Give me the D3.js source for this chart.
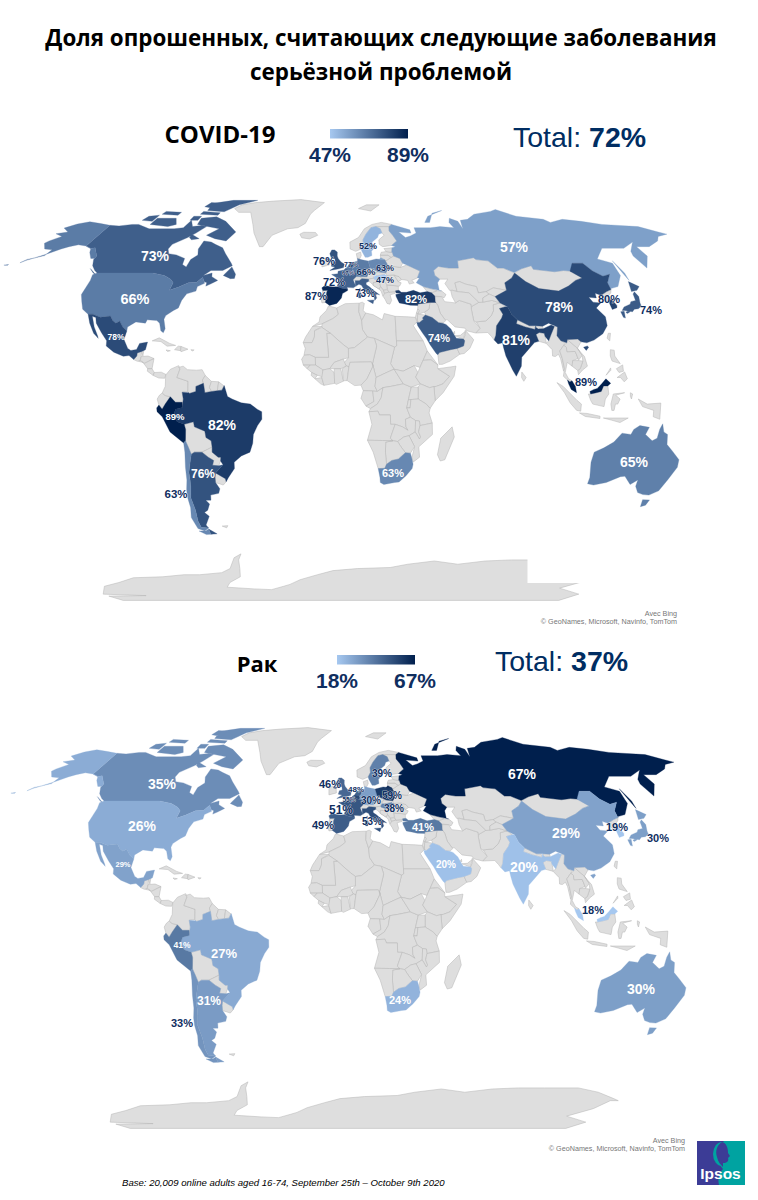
<!DOCTYPE html>
<html>
<head>
<meta charset="utf-8">
<script src="https://cdn.jsdelivr.net/npm/d3@7"></script>
<style>
body { margin: 0; background: white; }
svg { display: block; }
</style>
</head>
<body>
<script>
// survey results
const countries = ["Canada","USA","Mexico","Brazil","Peru","Argentina","Chile","Sweden","UK","Netherlands","Belgium","Germany","Poland","Hungary","France","Spain","Italy","Turkey","Russia","China","India","SaudiArabia","SouthKorea","Japan","Malaysia","Australia","SouthAfrica"]
const covidValues = [73,66,78,82,89,76,63,52,76,77,67,66,63,47,72,87,73,82,57,78,81,74,80,74,89,65,63]
const cancerValues = [35,26,29,27,41,31,33,39,46,48,55,30,59,38,51,49,53,41,67,29,20,20,19,30,18,30,24]
const covidRange = [47,89]
const cancerRange = [18,67]

// Robinson table
const robLat = [0,5,10,15,20,25,30,35,40,45,50,55,60,65,70,75,80,85,90]
const robLen = [1,.9986,.9954,.99,.9822,.973,.96,.9427,.9216,.8962,.8679,.835,.7986,.7597,.7186,.6732,.6213,.5722,.5322]
const robDfe = [0,.062,.124,.186,.248,.31,.372,.434,.4958,.5571,.6176,.6769,.7346,.7903,.8435,.8936,.9394,.9761,1]

// outlines of surveyed countries, lon,lat
const surveyed = {
Canada: ["-141,69.6 -135,69.3 -128,70 -124,70 -115,68 -108,68 -100,68 -95,68.5 -94,72 -90,69 -85,69.5 -81.5,69 -85,66 -88,64 -94,61 -94.5,59 -92.5,57 -88,56.5 -82.5,55 -82,52.5 -79.5,51.5 -79,54.5 -76.5,56.5 -78,59 -77.5,62.5 -73,62 -70,61 -65,59.5 -62,57 -57,53 -56,52 -60,50 -66,50 -69,48 -65,49 -64.5,47.5 -61,46 -64,44.5 -66,43.7 -66,45 -67.5,45.5 -69,47.3 -71,45.2 -75,45 -79,43.3 -83,42 -82.5,45 -84.5,46.5 -88.5,48 -95,49 -123,49 -125,50 -128,52 -130,54.5 -130,56 -135,59.5 -137,59.2 -141,60.3",
 "-80,73.7 -72,71.5 -62,66.5 -65,62.5 -72,63.5 -78,65 -73,68 -88,70 -89,73","-117,70 -105,69 -101,70 -105,73 -117,73","-125,72 -118,71.5 -118,74.5 -124,74","-90,77 -78,76.3 -72,80 -62,83 -80,83 -92,81","-92,75 -80,74.5 -80,75.8 -92,76.5","-117,75 -106,74.5 -106,76 -117,76.5","-95,79 -87,78 -87,81 -94,81.5","-95,72 -90,72 -90,74 -95,74","-87,65.5 -81,63.5 -85,63 -87,64","-59,48 -55,46.7 -53,46.8 -53,48.5 -56,51.5","-128,50.8 -123.5,48.5 -125,49"],
USA: ["-123,49 -95,49 -88.5,48 -84.5,46.5 -82.5,45 -83,42 -79,43.3 -75,45 -71,45.2 -69,47.3 -67.5,45.5 -67,44.8 -70,43.5 -70,41.7 -74,40.6 -75.5,38 -76,35 -78,34 -81,32 -81.4,30.5 -80,26.8 -80.5,25.2 -81.8,26 -83,29 -84.5,30 -89,30.3 -89.5,29 -94,29.5 -97.3,27.5 -97.2,25.9 -99.5,27.5 -101.5,29.8 -103,29 -104.8,30 -106.5,31.8 -111,31.3 -114.8,32.5 -117.1,32.5 -120.5,34.5 -122.5,37.5 -124.3,40.3 -124,46 -124.7,48.3",
 "-141,69.6 -148,70.4 -156.5,71.3 -162,70.2 -166.5,68.3 -161,66.5 -166.5,65.7 -161,64.5 -165,62.5 -166,61.5 -162,59 -157.5,58.7 -158,56.2 -162,55.2 -158,56.8 -153,59 -150,60 -146,60.8 -141,60.3 -137,59.2 -135.5,57.5 -132,55 -130,55 -130,56 -135,59.5 -137,59.2 -141,60.3",
 "-162,55.2 -165,54.2 -167,53.2 -165,54.6","-172,52.5 -174,52.2 -172,52.2"],
Mexico: ["-117.1,32.5 -114.8,32.5 -111,31.3 -106.5,31.8 -104.8,30 -103,29 -101.5,29.8 -99.5,27.5 -97.2,25.9 -97.8,22.5 -95.5,19 -94,18.2 -91.5,18.6 -90.5,21 -87,21.5 -87.5,18.5 -88.8,17.9 -91,17.2 -91,16 -92.2,14.6 -94.5,16.2 -97,15.9 -101.5,17.5 -105.3,20 -105.5,22 -108.5,25.2 -112,29 -113,31.2 -114.8,31.7 -112.5,27.5 -110,24 -109.5,23 -112,25 -115,29"],
Brazil: ["-51.5,4.3 -50,0 -48,-1 -44,-2.5 -40,-3 -37,-5 -35,-6 -35,-9 -37,-11.5 -39,-15 -39.5,-18.5 -41,-22 -45,-23.5 -48.5,-26 -48.7,-28.5 -52,-32 -53.4,-33.7 -53.5,-32.5 -57.6,-30.2 -53.7,-27 -54.6,-25.5 -54.3,-24 -55.5,-24 -58,-22 -57.8,-20 -58,-17.5 -60.2,-16.2 -60.5,-13.7 -65,-12 -65.3,-10 -69.5,-11 -72.5,-10 -74,-7.5 -73,-5 -70,-4.3 -69.5,-1 -70,1.7 -67,1.5 -66.8,1.2 -64,2 -64,4 -60.7,5.2 -60,1.5 -57,2 -54.5,2.3 -52.5,2.5"],
Peru: ["-80.3,-3.4 -78.9,-5 -77.5,-3 -75.2,-0.1 -73,-2.3 -70,-2.3 -70,-4.3 -73,-5 -74,-7.5 -72.5,-10 -69.5,-11 -69,-13 -69.3,-16 -69.5,-17.5 -70.4,-18.4 -76,-14 -79,-8 -81.2,-6 -81.3,-4.5"],
Argentina: ["-66,-22 -62.6,-22 -60,-24 -57.7,-25.3 -58.5,-27.2 -55.7,-27.4 -53.7,-27 -57.6,-30.2 -58.2,-32 -58.4,-34 -57,-36.5 -58,-38.3 -62,-39 -62.5,-41 -65,-41 -63.7,-42.5 -65.5,-45 -67.5,-46 -65.8,-47.5 -69,-51 -68.4,-52.3 -72,-52 -72.3,-49.5 -71.5,-45 -71.8,-40 -70.5,-36 -70,-33 -69.8,-30 -68.5,-26 -67.5,-22.8","-68.6,-52.7 -65.2,-54.7 -68.6,-54.9"],
Chile: ["-70.4,-18.4 -69.5,-17.5 -68.5,-20 -67.5,-22.8 -68.5,-26 -69.8,-30 -70,-33 -70.5,-36 -71.8,-40 -71.5,-45 -72.3,-49.5 -72,-52 -68.4,-52.3 -71,-53.5 -74,-52.5 -75,-48 -73.5,-44 -73.3,-40 -72.8,-37 -71.5,-33 -71,-28 -70.3,-22","-68.6,-52.7 -68.6,-54.9 -71,-55 -74,-53.5 -70.5,-53.5"],
Sweden: ["11,59 12.5,61 12.5,63 14.5,65.5 18,68.5 21,69 23.5,68 24,66 22,65.5 21,64 17.5,62 17.2,60.7 19,60 16.5,58 16.5,56.2 14.3,55.5 12.8,55.5 11.3,58"],
UK: ["-5.7,50 -1,50.7 1.3,51.2 1.7,52.7 0,53.5 -1.5,55 -2,56 -2,57.7 -3.5,58.6 -5,58.6 -6,57 -5,55 -3.2,54.9 -3,53.5 -4.5,53.2 -5,51.8 -3,51.4","-7.3,55.1 -5.6,54.6 -6.2,54.1 -7.5,54.2"],
Netherlands: ["3.4,51.4 4.5,53 7.1,53.5 7,52 6,51 5.8,51.2"],
Belgium: ["2.5,51 3.4,51.4 5.8,51.2 6.1,50.3 5.8,49.6 4.2,50"],
Germany: ["7.1,53.5 8.7,54 8.6,55 11,54.4 14.2,53.9 14.7,52 15,51 12.2,50.3 13.8,48.7 13,47.5 7.6,47.6 8.2,49 6,49.5 6.1,50.3 6,51 7,52"],
Poland: ["14.2,53.9 18.5,54.8 23,54.4 24,52.5 23.6,51 24,50.5 22.6,49.1 19,49.4 15,51 14.7,52"],
Hungary: ["16.3,46.9 17,48 18,47.8 22,48.4 22.9,48 21,46.2 18.7,45.9 16.5,46.5"],
France: ["-1.8,43.4 -1.2,46 -2.5,47.3 -4.7,48.4 -1.6,48.7 -1.5,49.7 1.5,50.2 2.5,51 4.2,50 6,49.5 8.2,49 7.5,47.5 6,46.3 7,44 7.5,43.8 6,43 3,43.2 3.2,42.4 0.7,42.7","8.6,42.3 9.4,43 9.5,41.5"],
Spain: ["-9.3,43 -8.8,41.9 -6.5,42 -6.9,41 -7,39.5 -7.4,37.2 -6.3,36.6 -5.4,36 -2,36.8 -0.5,38.3 0.2,39 0.7,40.7 3.2,41.9 3.2,42.4 0.7,42.7 -1.8,43.4 -4,43.4 -8,43.8"],
Italy: ["7.5,43.8 7,44 7,45.9 9,45.9 10.4,46.7 13.7,46.5 13.7,45.6 12.3,45 12.4,44.2 13.7,43.5 16,41.8 18.5,40.2 17,40.5 16.7,39.8 17,39 16,38 15.7,40 13,41.2 11,42.5 10,44 8.8,44.4","12.5,38 15.6,38.2 15.1,36.7","8.2,41 9.7,41 9.5,39.1 8.4,39"],
Turkey: ["26.3,41.8 28,42 29,41.2 31.5,41.2 35,42 38,41 41.5,41.5 43.5,41 44.8,39.7 44.5,37.5 44.8,37.2 42,37.2 36.2,36.6 36,36 32.5,36.1 30.5,36.5 27.5,37 26.3,39.5 26.2,40.3 29,40.8 26.5,40.9"],
Russia: ["31,70 41,67.5 41,66 34,66.5 37,64 40,64.7 44,66 44,68.5 54,68.5 60,69 68,68.5 67,71 69,73 73,71.5 73,68 75,72 80,72.5 87,75 100,76.5 105,77.5 113,74 128,72.5 130,71 140,72.5 150,71.5 160,70 170,69.5 180,69 187,66.5 190,65.5 183,64.5 179,62.5 170,60 163,60 163,56 156.5,51 155.5,56 157,58 164,62 155,59.3 143,59.3 135,54.8 141,53 140,48 135,43.5 131,42.7 130.7,42.3 131,45 135,48.5 131,47.7 127.5,49.8 125.5,53 120,53 117,49.7 113,50 108,49.5 98,50.5 98,52 92,50.7 87.5,49.2 83,51 80,51 77,54 71,54.5 70,55.3 61,54 60,51 55,51 50,51.7 47,50 47,48 49,46.5 47.5,45 47.5,42 48.5,41.8 44,42.6 40,43.5 37,45 39,47 38,47 40,49.8 34,52.3 32,53 31,55 28,56 27.7,57.5 27.4,57.6 28,59.5 30,60 28,60.5 31.5,62.5 30,65 28.5,67 29,69",
 "142,54 143,49 142.5,46 142,49","52,71 56,74 68,77 60,75.5 55,71","20,54.4 22.8,54.4 21,55.3"],
China: ["73.5,39.5 80,42 80.5,45 85,47 87.5,49 91,45.5 96,42.7 105,41.7 111,43.7 116,46 120,47 116,49.7 120,53 125.5,53 127.5,49.8 131,47.7 135,48.5 131,45 130.7,42.3 128,41.5 124.3,40 122,40.8 121.5,39 118,39.2 119,37.3 122.5,37 119.3,35 122,31.5 121.5,28 118.5,24.8 114,22.3 110.5,21.2 108,21.6 106.7,22.7 102,22.5 101.5,21.2 99,22 97.6,24 98.7,27.5 95,29 92,27.8 88.8,28 86,28 81,30.3 79,32.5 78,35.5 75,37","108.7,19.5 110.5,20 111,19.5 109.7,18.2"],
India: ["74,34.8 77,35.5 78,35.5 79,32.5 81,30.3 80.2,28.8 84,27.5 88.2,26.5 88.8,28 88.8,27.3 89.7,26.7 92,26.8 96,28.3 97.3,27.7 95,24.5 93.5,22 92.2,23.7 92,25 89.8,25.3 88.2,24.5 89,21.8 87,21.3 85,19.6 80.5,15.5 80,12 77.5,8 76,10.5 73.5,16 72.8,19.5 72.6,21.2 70.5,20.8 69,22.3 70,24.2 71,28 74,31 75,32.5"],
SaudiArabia: ["34.7,29.3 36,29.3 37.9,30.5 37.5,31 39,32.2 42,31.2 44.7,29.2 46.5,29 48,28.5 50,26.7 50.8,25 52,23 55.2,22.7 55.7,22 55,20 52,19 49,18.5 44,17.4 43.2,16.5 42.5,17 40,20.5 38.5,23 37,25 35,28"],
SouthKorea: ["126.7,37.8 128.3,38.6 129.5,36 129,35.1 126.5,34.4 126.5,36.5"],
Japan: ["130.9,34 132.5,35.4 136,36.5 137,37.5 139.5,38 140,40.5 141.3,41.4 142,39.5 141,37 140.8,35.7 138.8,34.7 136.8,34.5 135.5,33.5 132,34","140,41.5 141.7,45.5 145.3,43.5 143,42","130,33.5 131.7,33.7 131,31 130.2,31.3","132.3,33.3 134.5,34.2 134,33.3 132.7,32.8"],
Malaysia: ["100,6.5 101,5.7 102,6.2 103.4,4 103.8,1.5 101.5,2.8 100.4,5","109.7,2 111.5,2.8 113,3.2 115,5 117,7 119,5.2 117.7,4.2 115.8,4.2 114.7,2 112.5,1.5 110,1"],
Australia: ["114,-22 113.5,-26 115,-32 115,-34.5 118,-35 123.5,-34 129,-31.7 131,-31.5 135,-34.8 137.7,-33 138,-35.5 140.5,-38 143.5,-38.8 146.5,-39 150,-37.3 151.5,-33 153.5,-28 153,-25 149,-21.5 146,-19 145.3,-15 143.5,-14 142.5,-10.8 141.5,-13 141,-16.5 139,-17.5 135.5,-15 136.8,-12.2 132.5,-11.5 130,-13 129,-15 125,-14.5 122,-18 118,-20.3","144.8,-40.8 148.2,-40.9 148,-43 146,-43.6"],
SouthAfrica: ["17,-28.5 20,-28.4 20.7,-26.8 23,-25.3 26,-24.7 29,-22.2 31.3,-22.4 32,-24.3 32.8,-26.8 32.5,-28.5 30,-31.3 27,-33.8 25,-34 20,-34.8 18.3,-34 18,-32"]
}

// everything else on the map, no survey data
const otherLand = [
"-73,78 -68,76 -60,76 -54,70 -51,66 -45,60 -43,60 -40,65 -32,68 -26,68.5 -22,70.5 -20,75 -18,77 -12,81.5 -30,83.5 -50,82.5 -62,81.5 -70,80",
"-24,65.5 -22,66.4 -15,66.3 -13.5,65 -18,63.4 -22.5,63.9","12,78 18,80 27,80 20,76.7",
"-85,22 -82,23.2 -77,21 -74.2,20.2 -78,19.9 -81,21.7","-74.5,18.5 -73,19.9 -71.7,19.8 -71.7,18.1","-71.7,19.8 -68.5,18.7 -71.5,17.7 -71.7,18.1","-78.3,18.4 -76.3,18.1 -77.5,17.8","-67.2,18.5 -65.7,18.4 -66.5,18",
"-92.2,14.6 -91,16 -91,17.2 -89.2,17.9 -89,15.8 -89.3,14.3 -90.5,13.9","-89.2,17.9 -88.2,18.4 -88.3,16","-89,15.8 -86,16 -83.2,15 -87.5,13 -89.3,14.3","-90,13.9 -89.3,14.3 -87.7,13.4","-87.5,13 -83.2,15 -83.7,11 -85.7,11","-85.7,11 -83.7,11 -82.6,9.5 -83,8.3 -85.7,10","-83,8.3 -82.6,9.5 -79.5,9.6 -77.4,8.7 -77.9,7.2 -80.5,7.3",
"-80.3,-3.4 -78.9,-5 -77.5,-3 -75.2,-0.1 -77.5,0.4 -78.8,1.4 -80,0.5 -81,-1","-77.5,8.5 -75.5,10.8 -72,12.2 -71.3,11 -72.5,7.5 -67.5,6 -67.5,2 -70,1.7 -69.5,-1 -70,-4.3 -70,-2.3 -73,-2.3 -75.2,-0.1 -77.5,0.4 -78.8,1.4 -77.5,4 -77.5,7","-72,11.5 -70,12 -68,10.6 -64,10.4 -61.5,10.6 -60,8.3 -61.2,6.5 -60.7,5.2 -64,4 -64,2 -66.8,1.2 -67.5,2 -67.5,6 -72.5,7.5 -71.3,11","-60,8.3 -57.2,6 -58,3.5 -57,2 -60,1.5 -60.7,5.2 -61.2,6.5","-57.2,6 -54,5.8 -54.5,2.3 -57,2 -58,3.5","-54,5.8 -51.6,4.2 -52.5,2.5 -54.5,2.3","-69.5,-11 -65.3,-10 -65,-12 -60.5,-13.7 -60.2,-16.2 -58,-17.5 -57.8,-20 -62.6,-22 -66,-22 -67.5,-22.8 -68.5,-20 -69.5,-17.5 -69.3,-16 -69,-13","-57.8,-20 -58,-22 -55.5,-24 -54.3,-24 -54.6,-25.5 -55.7,-27.4 -58.5,-27.2 -57.7,-25.3 -60,-24 -62.6,-22","-57.6,-30.2 -53.5,-32.5 -53.4,-33.7 -55,-35 -58.4,-34 -58.2,-32","-61,-51.5 -58,-51.3 -59,-52.2",
"-6.2,54.1 -6,52.3 -9.8,51.5 -10,54.2 -8.3,55.1 -7.3,55.1 -7.5,54.2","-8.8,41.9 -6.5,42 -6.9,41 -7,39.5 -7.4,37.2 -9,37 -9.5,38.8","8.6,55 10,55 10.8,56.3 10.6,57.7 8.2,57","6,46.3 7.5,47.5 9.6,47.5 10.4,46.7 9,45.9 7,45.9","9.6,47.5 13,47.5 13.8,48.7 16.9,48.7 16.3,46.9 13.7,46.5 10.4,46.7","12.2,50.3 15,51 18.8,49.6 16.9,48.7 13.8,48.7","17,48.6 18.8,49.6 22.6,49.1 22,48.4 18,47.8","13.7,45.6 13.7,46.5 16.3,46.9 16.5,46.5 18.7,45.9 19,45 16,45.2 15.7,44 18.5,42.5 15,44.7 14.5,45.2","16,45.2 19,45 19.3,43.5 18.5,42.5 15.7,44","18.7,45.9 21,46.2 22.5,44.5 22.5,42.5 20.5,42 19.3,43.5 19,45","18.5,42.5 19.3,43.5 20.5,42 21,40.5 20,39.7 19.4,41.5","20.5,42 22.5,42.3 23,41.2 21,40.8","20,39.7 21,40.8 23,41.3 26.3,41.5 26,40.8 23.5,40.2 24,38 23,36.5 21.7,36.8 21,38.3","22.5,44.2 28,43.7 27.7,42 26.3,41.5 23,41.3 22.5,42.5","21,46.2 22.9,48 26.6,48.2 28.2,45.5 29.6,45 28.6,43.7 22.5,44.2","26.6,48.2 29,47.5 30,46.3 28.2,45.5","23.6,51 25,51.9 30.5,51.3 34,52.3 40,49.8 38,47 35,46 36,45 33.5,44.5 33,46 30.7,46.3 30,46.3 29,47.5 26.6,48.2 22.9,48 22.6,49.1 24,50.5","24,52.5 23.6,51 25,51.9 30.5,51.3 32,53 31,55 28,56 26.6,55.5 23.5,54 23,54.4","21,55.3 21,56.4 25,56.4 26.6,55.5 23.5,54 23,54.4","21,56.4 21.7,57.6 24.4,57.9 27.7,57.5 28,56 26.6,55.5 25,56.4","23.5,59.2 28,59.5 27.4,57.6 24.4,57.9","5,59 5,62 10,64 14,68 19,70 25,71 31,70 29,69 25.5,69 21,69 18,68.5 14.5,65.5 12.5,63 12.5,61 11,59 8,58","21,69 25.5,69 29,69 28.5,67 30,65 31.5,62.5 28,60.5 23,60 21.3,61 21.5,63 25,65 24,66 23.5,68",
"61,25.1 66.5,25.3 68,23.7 69,22.3 70,24.2 71,28 74,31 75,32.5 74,34.8 77,35.5 75,37 71.5,36.3 71,34 69.3,31.8 66.5,29.9 62,29.5 63.3,27","60.8,34.4 61.2,35.6 65,37.2 67,37.3 71.5,38 75,37 71.5,36.3 71,34 69.3,31.8 66.5,29.9 62,29.5 60.9,29.9","44.8,39.5 48,39.5 49,37.5 54,37 56,38 61.2,36.5 60.8,34.4 60.9,29.9 63.3,27 61,25.1 57,26 56.5,27 52,27.5 49,30.2 47.7,30.5 46,33 45.5,35.8 44.5,37.5","38.8,33.4 41,34.5 42,37.2 44.8,37.2 45.5,35.8 46,33 47.7,30.5 48,29.9 46.5,29 44.7,29.2 42,31.2 39.2,32.2","35.8,34.6 36.2,36.6 42,37.2 41,34.5 38.8,33.4 36,32.5","34.3,31.3 35,33 35.8,32.8 35.5,31 35,29.5","35,33 35.8,34.6 36.5,34 35.8,32.8","35.5,32.5 36,32.5 39,32.2 37.5,31 37.9,30.5 36,29.3 35,29.5","40,43.5 44,42.6 46.5,41.8 43.5,41 41.5,41.5","43.5,41 46.5,41.8 48.5,41.8 50.3,40.3 49,39 48,39.5 44.8,39.7","43.2,16.5 44,17.4 49,18.5 52,19 53,16.7 48.5,14 45,12.7 43.5,12.7","52,19 55,20 55.7,22 55.2,22.7 56.3,24.5 56.4,26.2 58.7,23.7 59.8,22.4 57.7,19 55,17 53,16.7","51.5,24 55.2,22.7 56,24.8 56.3,25.7 54,24.2","50.8,25 51.5,25.8 51.5,24.8","47,50 50,51.7 55,51 60,51 61,54 70,55.3 71,54.5 77,54 80,51 83,51 87.5,49 85,47 80.5,45 80,42 74,43 70,41.5 66,41 66,43.5 61,44.5 58.5,45.5 56,45 56,41.5 54,42 52.5,42 51,44.7 53,46.5 49,46.5 47,48","56,41.5 56,45 58.5,45.5 61,44.5 66,43.5 66,41 70,41.5 71,40.5 67.5,39 67,37.3 65,37.2 61.5,41","53,42 54,42 56,41.5 61.5,41 65,37.2 61.2,35.6 61.2,36.5 56,38 54,37 53,39.5","70,41.5 74,43 80,42 73.5,39.5 71,40.5","67.5,39 71,40.5 73.5,39.5 75,37 71.5,38 67,37.3","87.5,49 92,50.7 98,52 98,50.5 108,49.5 113,50 117,49.7 120,47 116,46 111,43.7 105,41.7 96,42.7 91,45.5","124.3,40 128,41.5 130.7,42.3 129.7,41 127.5,39.7 128.3,38.6 126.7,37.8 125,38","121,25 122,25 121,22 120,23",
"88.2,24.5 89.8,25.3 92,25 92.2,23.7 92.3,21 89,21.8","80.2,28.8 81,30.3 86,28 88.2,27.7 88.2,26.5 84,27.5","88.8,27.3 89,28 92,27.8 92,26.8 89.7,26.7","80,9.7 81.8,7.5 80.7,6 79.8,7.5",
"92.2,21 93.5,22 95,24.5 97.3,27.7 98.7,27.5 97.6,24 99,22 101,21.3 100,20.3 97.8,18 98.5,15 99,11 98.5,10 97.7,15 97,16.7 95.5,15.8 94.3,16 94.5,18.5","100,20.3 101,19.5 101,17.7 104.7,17.8 105.5,15 103,14.2 102.5,12 100.5,13.5 100,12 99.2,9.5 100.5,7 102,6.2 101,5.7 100,6.5 98.3,8 99,11 98.5,15 97.8,18","101.5,21.2 102,22.5 106,19 107.5,16.2 105.5,14.2 105.5,15 104.7,17.8 101,17.7 101,19.5 100,20.3","102,22.5 106.7,22.7 108,21.6 105.8,19 108.5,15.8 109.3,12 107,10.5 105,8.6 104.8,10.3 106,11 107.5,14 107.5,16.2 106,19","102.5,12 103,14.2 105.5,14.2 107.5,14 106,11 104.8,10.3",
"109,1 110,1 112.5,1.5 114.7,2 115.8,4.2 117.7,4.2 118,1 116.5,-1 116,-4 111,-3 110,-1.5","95.3,5.5 98,4 104,-1.5 106,-3 105.8,-5.8 104,-5.5 101,-2.5 98.5,1.5","105.3,-6.5 108.7,-6.7 114.5,-7.8 114.5,-8.7 108,-7.9","119.5,-5.5 119,-3 120,1 125,1.5 121,0.5 123,-1 122,-3 121,-3 120.5,-5.5","116,-8.5 120,-8.5 125,-8.5 127,-8.5 123.5,-10.3 119.5,-9.3","131,-1 135,-3 141,-2.6 141,-9 138,-8 138,-5.5 133,-4","127.5,1.5 128.5,1 128,-1 127.5,0","120.5,18.5 122.2,18.3 122,16 124,13 120.5,14 120,16","122,7.5 125.5,9.7 126.5,7 125,5.8 123.5,7.5","122,11 125,12.5 125,10 123,9.5","117.2,8.4 119.5,11.3 119.5,10.4",
"-5.9,35.8 -2,35 -1.2,32.5 -3.7,30.8 -8.7,28.7 -13,27.7 -10,29.5 -9.7,31.5 -6.8,34","-13,27.7 -8.7,27.7 -12,26 -12,23.5 -13,21.3 -17,21.3 -16,23.5","-2,35 2,36.7 8.6,36.9 8.3,33.5 9.5,30 9.8,26.5 12,23.5 6,19.3 3.3,19 1,20.5 -4.8,25 -8.7,27.3 -8.7,28.7 -3.7,30.8 -1.2,32.5","8.6,36.9 10,37.3 11,36.8 10.3,34 11.5,33 9.5,30 8.3,33.5","11.5,33 15,32.3 19,30.3 20,32.8 25,31.7 25,20 24,19.5 15,23 12,23.5 9.8,26.5 9.5,30","25,31.7 31,31.5 34.2,31.3 34.8,29.5 33,28 35.7,23.9 37,22 25,22","25,22 37,22 38.6,18 36.5,14.3 35,11.5 32.5,12.2 27.5,10 23.5,10.8 22,13 24,19.5 25,20","15,23 24,19.5 22,13 23.5,10.8 19,9 15.5,7.5 14,13 16,20","6,19.3 12,23.5 15,23 16,20 14,13 13.5,13.7 4,13.5 3.5,11.7 1,13 3.3,15.3 3.3,19","-11.5,15.5 -5.5,15.5 -6.5,25 -4.8,25 1,20.5 3.3,19 3.3,15.3 1,14.8 -3,13.5 -5,11 -8,10.5 -11.3,12.4","-17,21.3 -13,21.3 -12,23.5 -12,26 -8.7,27.3 -4.8,25 -6.5,25 -5.5,15.5 -11.5,15.5 -14,16.5 -16.5,16.3 -16,19","-16.5,16.3 -14,16.5 -11.5,15.5 -11.3,12.4 -16.7,12.4 -17.5,14.7","-16.7,12.4 -13.7,12.4 -15,11","-15,11 -13.7,12.4 -11.3,12.4 -8,10.5 -8,7.7 -10.5,8.4 -13,9.5","-13,9.5 -10.5,8.4 -11.5,7 -13.2,8.3","-11.5,7 -8.5,7.5 -7.5,4.4 -9,5","-8,10.5 -5,11 -3,9.5 -2.8,5.2 -7.5,4.4 -8.5,7.5","-5,11 -3,13.5 1,14.8 2.3,12 -0.1,11 -3,11","-3,11 -0.1,11 0.6,8 1.2,6.1 -2,4.8 -2.8,5.2 -3,9.5","0.6,11 1,6.2 2.7,6.3 3.5,11.7 2.3,12","2.7,6.3 3.5,11.7 4,13.5 13.5,13.7 14.2,12 11.5,7 8.8,4.5 6,4.3","8.8,4.5 11.5,7 14.2,12 14,13 15.5,7.5 15,4 16,2 9.8,2.3","15.5,7.5 19,9 23.5,10.8 27.5,5 22,4 18.5,3.5 16,2 15,4","9.8,2.3 14,2.2 14.5,-2 11,-3.8 8.8,-0.7","14,2.2 16,2 18.5,3.5 17.7,-0.5 16,-3 13,-4.8 11,-3.8 14.5,-2","18.5,3.5 22,4 27.5,5 31,3.7 29.7,-1.3 29,-4.5 30.7,-8.2 28.5,-9 28.8,-12 29.8,-13.4 27.3,-12 24,-11 22,-11 21.8,-7.3 17,-7.3 16.3,-5.8 12.3,-6 13,-4.8 16,-3 17.7,-0.5","12.3,-6 16.3,-5.8 17,-7.3 21.8,-7.3 22,-11 24,-11 22,-16.5 23.3,-17.5 18.5,-17.4 11.8,-17.3 13.7,-11","23.5,10.8 27.5,10 32.5,12.2 34,9.5 33,7.7 35,5 31,3.7 27.5,5","36.5,14.3 38.6,18 43,12.5 40,14.5","36.5,14.3 40,14.5 43,12.5 42.8,11 48,8 45,5 42,4 39,3.5 35,5 33,7.7 34,9.5 35,11.5","43,11 51,12 50,8 45,1.5 41.5,-1.7 41,3.9 42,4 45,5 48,8","35,5 39,3.5 41,3.9 41.5,-1.7 39.3,-4.7 37.6,-3 34,-1 34,3.7","31,3.7 34,3.7 34,-1 30.8,-1.2 29.7,-1.3","29.7,-1.3 30.8,-1.2 30.5,-4.5 29,-4.5","30.8,-1.2 34,-1 37.6,-3 39.3,-4.7 38.9,-6.5 40.4,-10.5 35,-11.5 34.7,-9.7 33,-9.5 30.7,-8.2 29,-4.5 30.5,-4.5","24,-11 27.3,-12 29.8,-13.4 28.8,-12 28.5,-9 30.7,-8.2 33,-9.5 33,-14 30.3,-15.5 28,-16 25.3,-17.8 23.3,-17.5 22,-16.5","33,-9.5 34.7,-9.7 35,-11.5 34.5,-14 35.5,-16 35,-16.8 33,-14","35,-11.5 40.4,-10.5 40.7,-15 34.9,-19.9 35.5,-24 32.8,-25.9 32,-24.3 33,-19.8 30.3,-15.5 33,-14 35,-16.8 35.5,-16 34.5,-14","25.3,-17.8 28,-16 30.3,-15.5 33,-19.8 31.3,-22.4 29,-22.2 27,-20","20,-18 23.3,-17.5 25.3,-17.8 27,-20 29,-22.2 26,-24.7 23,-25.3 20.7,-26.8 20,-22","11.8,-17.3 18.5,-17.4 23.3,-17.5 20,-18 20,-22 20.7,-26.8 20,-28.4 17,-28.5 14.5,-22","49.3,-12 50.5,-16 47,-25 45,-25.5 43.5,-23 44.5,-16.5",
"-180,-89.9 -180,-85.5 -150,-85 -180,-84 -165,-79 -150,-77 -135,-74.5 -115,-74 -100,-73 -90,-73 -75,-72 -68,-70 -62,-65 -57,-63.3 -60,-66 -62,-70 -65,-74 -75,-77 -80,-79.5 -62,-80.5 -50,-81 -40,-79 -35,-78 -27,-75.5 -15,-73 -5,-71 10,-70 30,-69.5 40,-68 55,-66.5 70,-68 85,-66.5 100,-66 115,-66 135,-66 150,-68 165,-71 170,-72 165,-72 163,-76 155,-80 180,-84 180,-89.9"
]

// label placement, page pixels: country, x, y, size, inside map (white) or not (dark)
const covidLabels = [["Canada",155,256,14,1],["USA",135,299,14.5,1],["Mexico",116,337,8.5,1],["Brazil",222,425,14,1],["Peru",175,417,9.5,1],["Argentina",203,474,12,1],["Chile",176,494,11.5,0],["Sweden",368,246,9,0],["UK",324,261,11,0],["Netherlands",351,265,7,0],["Belgium",348,273,6,0],["Germany",366,272,9.5,0],["Poland",385,268,9,0],["Hungary",385,280,9,0],["France",334,282,11,0],["Spain",316,296,11,0],["Italy",365,293,10,0],["Turkey",416,299,11,1],["Russia",514,247,14,1],["China",559,307,14,1],["India",516,340,14,1],["SaudiArabia",439,338,11,1],["SouthKorea",609,299,11,0],["Japan",651,310,11,0],["Malaysia",586,382,11,0],["Australia",634,462,14,1],["SouthAfrica",393,473,11,1]]
const cancerLabels = [["Canada",162,784,14,1],["USA",142,826,14,1],["Mexico",123,864,7.5,1],["Brazil",224,953,13,1],["Peru",182,945,8.5,1],["Argentina",209,1001,12,1],["Chile",182,1023,11,0],["Sweden",382,773,10,0],["UK",330,784,11,0],["Netherlands",356,789,8,0],["Belgium",349,800,6.5,0],["Germany",371,800,10,0],["Poland",392,795,10,0],["Hungary",394,808,10,0],["France",341,810,12,0],["Spain",323,825,11,0],["Italy",372,821,10,0],["Turkey",423,827,11,1],["Russia",522,774,14,1],["China",566,833,14,1],["India",524,867,14,1],["SaudiArabia",446,864,10,1],["SouthKorea",617,827,11,0],["Japan",658,838,11,0],["Malaysia",593,910,11,0],["Australia",641,989,14,1],["SouthAfrica",400,1000,11,1]]

const Light = "#A6C8F0"
const Dark = "#001F4D"
const TextBlue = "#0F2E5F"
const Land = "#DEDEDE"
const ArcWidth = 2.27    // px per degree at the equator
const ArcHeight = 204    // px equator to pole

const svg = d3.select("body").append("svg").attr("width", 758).attr("height", 1200)

const defs = svg.append("defs")
const grad = defs.append("linearGradient").attr("id", "legendGrad")
grad.append("stop").attr("offset", "0%").attr("stop-color", Light)
grad.append("stop").attr("offset", "100%").attr("stop-color", Dark)

const lenAt = d3.scaleLinear().domain(robLat).range(robLen)
const dfeAt = d3.scaleLinear().domain(robLat).range(robDfe)

function parseRing (str) {
    const ring = str.split(" ").map(p => p.split(",").map(Number))
    ring.push(ring[0])
    return ring
}

function Feature (rings) {
    return {type: "MultiPolygon", coordinates: rings.map(r => [parseRing(r)])}
}

function DrawMap (cx, equator, values, range) {
    const g = svg.append("g")
    const project = d3.geoTransform({
        point: function (lon, lat) {
            const a = Math.abs(lat)
            this.stream.point(cx + ArcWidth * lenAt(a) * lon, equator - Math.sign(lat) * ArcHeight * dfeAt(a))
        }
    })
    const path = d3.geoPath(project)
    const color = d3.scaleLinear().domain(range).range([Light, Dark]).clamp(true)

    g.selectAll("path.other").data(otherLand).join("path")
        .attr("class", "other")
        .attr("d", d => path(Feature([d])))
        .attr("fill", Land)
        .attr("stroke", "#B4B4B4")
        .attr("stroke-width", 0.5)
        .attr("stroke-linejoin", "round")

    g.selectAll("path.country").data(countries).join("path")
        .attr("class", "country")
        .attr("d", d => path(Feature(surveyed[d])))
        .attr("fill", (d, i) => color(values[i]))
        .attr("stroke", (d, i) => color(values[i]))
        .attr("stroke-width", 0.3)
    return g
}

function DrawLabels (labels, values) {
    labels.forEach(function ([name, x, y, size, inside]) {
        const t = svg.append("text")
            .attr("x", x)
            .attr("y", y)
            .attr("dy", "0.35em")
            .attr("text-anchor", "middle")
            .attr("font-family", "Liberation Sans")
            .attr("font-weight", "bold")
            .attr("font-size", size)
            .attr("fill", inside ? "white" : TextBlue)
            .text(values[countries.indexOf(name)] + "%")
        if (!inside) {
            t.attr("stroke", "white").attr("stroke-width", 0.6).attr("paint-order", "stroke")
        }
    })
}

function DrawHeader (name, nameSize, nameX, nameY, barX, barY, range, total, totalX, totalY) {
    svg.append("text")
        .attr("x", nameX).attr("y", nameY)
        .attr("text-anchor", "middle")
        .attr("font-family", "Open Sans")
        .attr("font-weight", "bold")
        .attr("font-size", nameSize)
        .text(name)
    svg.append("rect")
        .attr("x", barX).attr("y", barY)
        .attr("width", 78).attr("height", 9.5)
        .attr("fill", "url(#legendGrad)")
    range.forEach(function (v, i) {
        svg.append("text")
            .attr("x", barX + i * 78).attr("y", barY + 33)
            .attr("text-anchor", "middle")
            .attr("font-family", "Liberation Sans")
            .attr("font-weight", "bold")
            .attr("font-size", 21)
            .attr("fill", TextBlue)
            .text(v + "%")
    })
    const t = svg.append("text")
        .attr("x", totalX).attr("y", totalY)
        .attr("font-family", "Liberation Sans")
        .attr("font-size", 28.5)
        .attr("fill", "#002D62")
    t.append("tspan").text("Total: ")
    t.append("tspan").attr("font-weight", "bold").text(total + "%")
}

function DrawCredit (x, y) {
    const lines = ["Avec Bing", "© GeoNames, Microsoft, Navinfo, TomTom"]
    lines.forEach(function (l, i) {
        svg.append("text")
            .attr("x", x).attr("y", y + i * 8.5)
            .attr("text-anchor", "end")
            .attr("font-family", "Liberation Sans")
            .attr("font-size", 7.2)
            .attr("fill", "#777")
            .text(l)
    })
}

// title
const titleLines = ["Доля опрошенных, считающих следующие заболевания", "серьёзной проблемой"]
titleLines.forEach(function (l, i) {
    svg.append("text")
        .attr("x", 381).attr("y", 46 + i * 33.5)
        .attr("text-anchor", "middle")
        .attr("font-family", "Open Sans")
        .attr("font-weight", "bold")
        .attr("font-size", 22.4)
        .text(l)
})

DrawHeader("COVID-19", 24, 220, 143, 330, 129, covidRange, 72, 513, 147)
DrawMap(341, 396.5, covidValues, covidRange)
// the source picture has a white patch over part of Antarctica
svg.append("rect").attr("x", 527.5).attr("y", 540).attr("width", 110).attr("height", 43).attr("fill", "white")
DrawLabels(covidLabels, covidValues)
DrawCredit(677, 615.5)

DrawHeader("Рак", 22, 257, 672, 337, 655, cancerRange, 37, 495, 671)
DrawMap(348, 924.5, cancerValues, cancerRange)
DrawLabels(cancerLabels, cancerValues)
DrawCredit(685, 1142.5)

// footer
svg.append("text")
    .attr("x", 122).attr("y", 1186)
    .attr("font-family", "Liberation Sans")
    .attr("font-style", "italic")
    .attr("font-size", 9.6)
    .text("Base: 20,009 online adults aged 16-74, September 25th – October 9th 2020")

// Ipsos logo
const logo = svg.append("g").attr("transform", "translate(697,1141)")
logo.append("rect").attr("width", 48).attr("height", 44).attr("fill", "#00A3A1")
logo.append("path").attr("d", "M0,0H27C18,8 18,20 26,28C21,33 21,39 22,44H0Z").attr("fill", "#3C3C96")
logo.append("ellipse").attr("cx", 25).attr("cy", 13).attr("rx", 9).attr("ry", 12).attr("fill", "#00A3A1")
logo.append("path").attr("d", "M25,1C20,4 18,10 20,16C21,21 24,24 26,26L26,22C30,22 32,20 31,17L33,15L31,12C31,6 29,2 25,1Z").attr("fill", "#3C3C96")
logo.append("text")
    .attr("x", 23.5).attr("y", 38)
    .attr("text-anchor", "middle")
    .attr("font-family", "Liberation Sans Narrow, Liberation Sans")
    .attr("font-weight", "bold")
    .attr("font-size", 15.5)
    .attr("fill", "white")
    .text("Ipsos")
</script>
</body>
</html>
